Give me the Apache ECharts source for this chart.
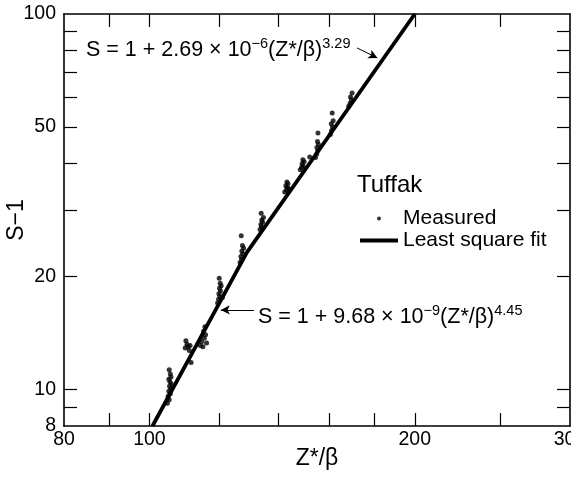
<!DOCTYPE html>
<html>
<head>
<meta charset="utf-8">
<script src="https://cdn.jsdelivr.net/npm/echarts@6.0.0/dist/echarts.min.js"></script>
<style>
  html, body { margin: 0; padding: 0; background: #fff; }
  #chart { width: 571px; height: 478px; }
</style>
</head>
<body>
<div id="chart"></div>
<script>
// axis ticks / labels
const xTickValues = [90, 100, 120, 140, 160, 180, 200, 250];
const xLabelValues = [80, 100, 200, 300];
const yTickValues = [9, 10, 20, 30, 40, 50, 60, 70, 80, 90];
const yLabelValues = [8, 10, 20, 50, 100];

// measured points (Z*/beta, S-1)
const measured = [
  [104.8, 9.2], [105.3, 9.4], [105.0, 9.6], [105.6, 9.75], [105.2, 9.9], [105.7, 10.05],
  [105.4, 10.2], [105.9, 10.35], [105.5, 10.5], [105.2, 10.65], [105.8, 10.8], [105.6, 11.0], [105.3, 11.3],
  [109.8, 12.9], [110.3, 13.2], [110.0, 13.5], [110.6, 13.0], [111.0, 12.7], [111.5, 11.8], [111.2, 13.1],
  [114.2, 13.1], [114.6, 13.4], [115.0, 13.0], [115.4, 13.7], [115.8, 14.0], [115.2, 14.3], [115.6, 14.7], [116.1, 13.3],
  [119.5, 17.0], [119.8, 17.4], [120.2, 17.7], [119.9, 18.0], [120.4, 18.3], [120.1, 18.6],
  [120.6, 18.9], [120.3, 19.2], [120.0, 19.8], [121.0, 17.6],
  [126.7, 21.8], [127.2, 22.2], [127.0, 22.6], [127.6, 23.0], [127.3, 23.4], [127.9, 23.8], [127.5, 24.2], [127.1, 25.7],
  [133.5, 26.7], [134.0, 27.1], [133.8, 27.5], [134.4, 27.9], [134.1, 28.3], [134.7, 28.7], [133.9, 29.5],
  [142.4, 33.6], [143.0, 34.0], [143.4, 34.5], [142.8, 34.9], [143.6, 35.3], [143.2, 35.7], [144.0, 34.2],
  [148.3, 38.5], [148.8, 39.0], [149.4, 39.4], [149.0, 39.9], [149.8, 40.4], [149.3, 40.9], [152.0, 41.6],
  [154.3, 41.5], [154.8, 42.4], [155.2, 43.3], [154.9, 44.1], [155.5, 44.9], [155.1, 45.8], [155.3, 48.2],
  [160.4, 47.8], [160.9, 48.9], [161.3, 50.0], [160.8, 51.0], [161.6, 52.0], [161.2, 54.5],
  [168.3, 56.8], [168.9, 57.9], [169.5, 59.0], [169.1, 60.1], [169.8, 61.6]
];

// least square fit, two power-law pieces (end points and kink)
const fitX = [100.8, 129, 200];
const fitY = [8, 23.2, 100];

// arrows for the two equations
const upperArrow = [[172, 81.2], [181.4, 76.4]];
const lowerArrow = [[131.4, 16.3], [120.5, 16.3]];

const FONT = '"Liberation Sans", Arial, Helvetica, sans-serif';

const tickStyle = { inside: true, length: 13, lineStyle: { color: '#000', width: 1.2 } };
const lineStyle = { color: '#000', width: 1.6 };
const eqRich = {
  n: { fontFamily: FONT, fontSize: 21.5, lineHeight: 28, fill: '#000' },
  s: { fontFamily: FONT, fontSize: 14.5, lineHeight: 15, verticalAlign: 'top', fill: '#000' }
};

const chart = echarts.init(document.getElementById('chart'));

const option = {
  animation: false,
  backgroundColor: '#fff',
  textStyle: { fontFamily: FONT, color: '#000' },
  grid: { left: 64, right: 1, top: 14, bottom: 52, outerBoundsMode: 'none', containLabel: false },
  title: {
    text: 'Tuffak',
    left: 357,
    top: 173,
    padding: 0,
    textStyle: { fontFamily: FONT, fontSize: 24, fontWeight: 'normal', color: '#000' }
  },
  legend: {
    orient: 'vertical',
    left: 360,
    top: 208,
    padding: 0,
    itemWidth: 38,
    itemHeight: 4,
    itemGap: 1,
    textStyle: { fontFamily: FONT, fontSize: 21, color: '#000' },
    data: [
      { name: 'Measured', icon: 'circle' },
      { name: 'Least square fit', icon: 'rect' }
    ]
  },
  xAxis: [
    {
      type: 'log', logBase: 10, min: 80, max: 300,
      name: 'Z*/β', nameLocation: 'middle', nameGap: 21, nameMoveOverlap: false,
      nameTextStyle: { fontFamily: FONT, fontSize: 23, color: '#000', verticalAlign: 'top' },
      axisLine: { lineStyle },
      axisTick: Object.assign({ customValues: xTickValues }, tickStyle),
      axisLabel: { customValues: xLabelValues, margin: 4, fontSize: 19.5, color: '#000', fontFamily: FONT },
      splitLine: { show: false }, minorTick: { show: false }
    },
    {
      type: 'log', logBase: 10, min: 80, max: 300, position: 'top',
      axisLine: { lineStyle },
      axisTick: Object.assign({ customValues: xTickValues }, tickStyle),
      axisLabel: { show: false },
      splitLine: { show: false }
    }
  ],
  yAxis: [
    {
      type: 'log', logBase: 10, min: 8, max: 100,
      name: 'S−1', nameLocation: 'middle', nameGap: 36, nameMoveOverlap: false,
      nameTextStyle: { fontFamily: FONT, fontSize: 23, color: '#000' },
      axisLine: { lineStyle },
      axisTick: Object.assign({ customValues: yTickValues }, tickStyle),
      axisLabel: { customValues: yLabelValues, margin: 8, fontSize: 19.5, color: '#000', fontFamily: FONT },
      splitLine: { show: false }
    },
    {
      type: 'log', logBase: 10, min: 8, max: 100, position: 'right',
      axisLine: { lineStyle },
      axisTick: Object.assign({ customValues: yTickValues }, tickStyle),
      axisLabel: { show: false },
      splitLine: { show: false }
    }
  ],
  series: [
    {
      name: 'Least square fit',
      type: 'line',
      data: fitX.map((x, i) => [x, fitY[i]]),
      showSymbol: false,
      lineStyle: { color: '#000', width: 3.8 },
      itemStyle: { color: '#000' },
      z: 2,
      markLine: {
        silent: true,
        symbol: ['none', 'arrow'],
        symbolSize: [7, 9],
        label: { show: false },
        lineStyle: { color: '#000', width: 1, type: 'solid' },
        data: [
          [{ coord: upperArrow[0] }, { coord: upperArrow[1] }],
          [{ coord: lowerArrow[0] }, { coord: lowerArrow[1] }]
        ]
      }
    },
    {
      name: 'Measured',
      type: 'scatter',
      data: measured,
      symbolSize: 5,
      itemStyle: { color: '#000' },
      z: 3
    }
  ],
  graphic: [
    {
      type: 'text', left: 86, top: 36,
      style: { text: '{n|S = 1 + 2.69 × 10}{s|−6}{n|(Z*/β)}{s|3.29}', rich: eqRich }
    },
    {
      type: 'text', left: 258, top: 303,
      style: { text: '{n|S = 1 + 9.68 × 10}{s|−9}{n|(Z*/β)}{s|4.45}', rich: eqRich }
    }
  ]
};

chart.setOption(option);
</script>
</body>
</html>
